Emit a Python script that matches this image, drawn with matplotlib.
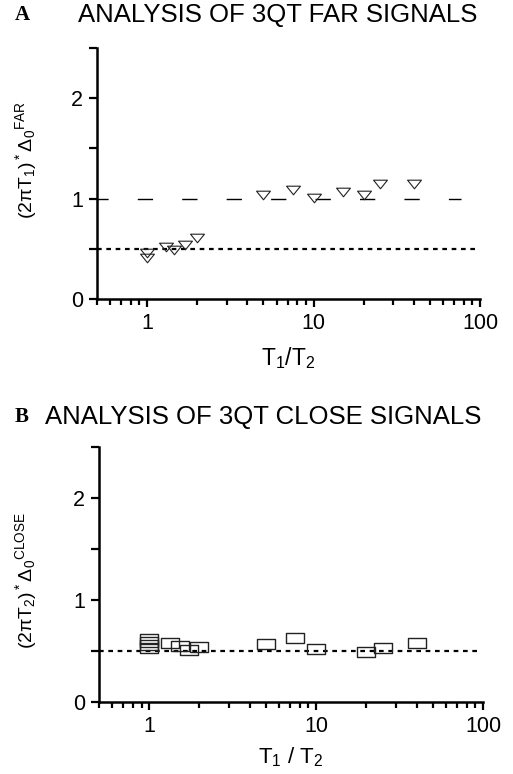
import numpy as np
import matplotlib
matplotlib.use('Agg')
import matplotlib.pyplot as plt
from matplotlib.path import Path
from matplotlib.ticker import LogLocator, FixedLocator, NullFormatter

# ──────────────────────────────────────────────
# Datos
# ──────────────────────────────────────────────
far_ratio = [1, 1, 1.3, 1.45, 1.7, 2, 5, 7.5, 10, 15, 20, 25, 40]
far_value = [0.41, 0.46, 0.52, 0.49, 0.54, 0.61, 1.04, 1.09, 1.01, 1.07, 1.04, 1.15, 1.15]

close_ratio = [1, 1, 1, 1, 1.33, 1.52, 1.74, 2, 5, 7.5, 10, 20, 25, 40]
close_value = [0.62, 0.59, 0.56, 0.53, 0.58, 0.55, 0.51, 0.54, 0.57, 0.63, 0.515, 0.49, 0.53, 0.58]

far_ref_lines = [1.0, 0.5]
close_ref_lines = [0.5]

y_ticks = [0, 0.5, 1, 1.5, 2, 2.5]
y_ticklabels = ['0', '', '1', '', '2', '']

# ──────────────────────────────────────────────
# Estilo
# ──────────────────────────────────────────────
plt.rcParams['font.family'] = ['Liberation Sans', 'DejaVu Sans']
plt.rcParams['mathtext.fontset'] = 'custom'
plt.rcParams['mathtext.rm'] = 'Liberation Sans'
plt.rcParams['mathtext.it'] = 'Liberation Sans:italic'
plt.rcParams['mathtext.bf'] = 'Liberation Sans:bold'

tri_down = Path([(-1, 0.62), (1, 0.62), (0, -0.62), (-1, 0.62)],
                [Path.MOVETO, Path.LINETO, Path.LINETO, Path.CLOSEPOLY])
rect = Path([(-1, -0.62), (1, -0.62), (1, 0.62), (-1, 0.62), (-1, -0.62)],
            [Path.MOVETO, Path.LINETO, Path.LINETO, Path.LINETO, Path.CLOSEPOLY])

fig = plt.figure(figsize=(5.13, 7.74), dpi=100)

W, H = 513, 774


def make_axes(left, right, top, bottom):
    return fig.add_axes([left / W, 1 - bottom / H, (right - left) / W, (bottom - top) / H])


def style_axes(ax):
    ax.set_xscale('log')
    ax.set_xlim(0.5, 100)
    ax.set_ylim(0, 2.5)
    for s in ['top', 'right']:
        ax.spines[s].set_visible(False)
    for s in ['left', 'bottom']:
        ax.spines[s].set_linewidth(1.8)
    ax.yaxis.set_major_locator(FixedLocator(y_ticks))
    ax.set_yticklabels(y_ticklabels)
    ax.xaxis.set_major_locator(FixedLocator([1, 10, 100]))
    ax.set_xticklabels(['1', '10', '100'])
    ax.xaxis.set_minor_locator(LogLocator(base=10, subs=np.arange(2, 10)))
    ax.xaxis.set_minor_formatter(NullFormatter())
    ax.tick_params(axis='both', which='major', direction='out', length=6, width=1.6,
                   labelsize=15.5, pad=4)
    ax.tick_params(axis='x', which='minor', direction='out', length=4, width=1.6)


# ──────────────────────────────────────────────
# Panel A
# ──────────────────────────────────────────────
axA = make_axes(97, 480, 48, 299)
style_axes(axA)
axA.axhline(far_ref_lines[0], xmin=0, xmax=0.95, color='black', lw=1.0,
            linestyle=(3, (11, 21)))
axA.axhline(far_ref_lines[1], xmin=0, xmax=0.99, color='black', lw=1.6,
            linestyle=(0, (2.1, 2.1)))
axA.plot(far_ratio, far_value, linestyle='none', marker=tri_down, markersize=10,
         markerfacecolor='none', markeredgecolor='#222222', markeredgewidth=0.8,
         clip_on=False)
axA.set_xlabel('T$_1$/T$_2$', fontsize=16.5)
axA.xaxis.set_label_coords(0.5, -(358 - 299) / 251, transform=axA.transAxes)
axA.xaxis.label.set_va('center')
axA.set_ylabel('(2πT$_1$)$^*$Δ$_0$$^{\\mathrm{FAR}}$', fontsize=14)
axA.yaxis.set_label_coords(-(97 - 26) / 383, (299 - 160) / 251, transform=axA.transAxes)
axA.yaxis.label.set_va('center')

fig.text(15 / W, 1 - 15 / H, 'A', family='Liberation Serif', weight='bold',
         fontsize=15, va='center', ha='left')
fig.text(78 / W, 1 - 15 / H, 'ANALYSIS OF 3QT FAR SIGNALS', fontsize=18.5,
         va='center', ha='left')

# ──────────────────────────────────────────────
# Panel B
# ──────────────────────────────────────────────
axB = make_axes(99, 483, 447, 702)
style_axes(axB)
axB.axhline(close_ref_lines[0], xmin=0, xmax=0.99, color='black', lw=1.6,
            linestyle=(0, (2.1, 2.1)))
axB.plot(close_ratio, close_value, linestyle='none', marker=rect, markersize=12.5,
         markerfacecolor='none', markeredgecolor='#222222', markeredgewidth=1.0,
         clip_on=False)
axB.set_xlabel('T$_1$ / T$_2$', fontsize=16)
axB.xaxis.set_label_coords(0.5, -(757 - 702) / 255, transform=axB.transAxes)
axB.xaxis.label.set_va('center')
axB.set_ylabel('(2πT$_2$)$^*$Δ$_0$$^{\\mathrm{CLOSE}}$', fontsize=14)
axB.yaxis.set_label_coords(-(99 - 26) / 384, (702 - 580) / 255, transform=axB.transAxes)
axB.yaxis.label.set_va('center')

fig.text(15 / W, 1 - 417 / H, 'B', family='Liberation Serif', weight='bold',
         fontsize=15, va='center', ha='left')
fig.text(45 / W, 1 - 417 / H, 'ANALYSIS OF 3QT CLOSE SIGNALS', fontsize=18.5,
         va='center', ha='left')

fig.savefig('out.png', dpi=100, facecolor='white')
plt.close()
